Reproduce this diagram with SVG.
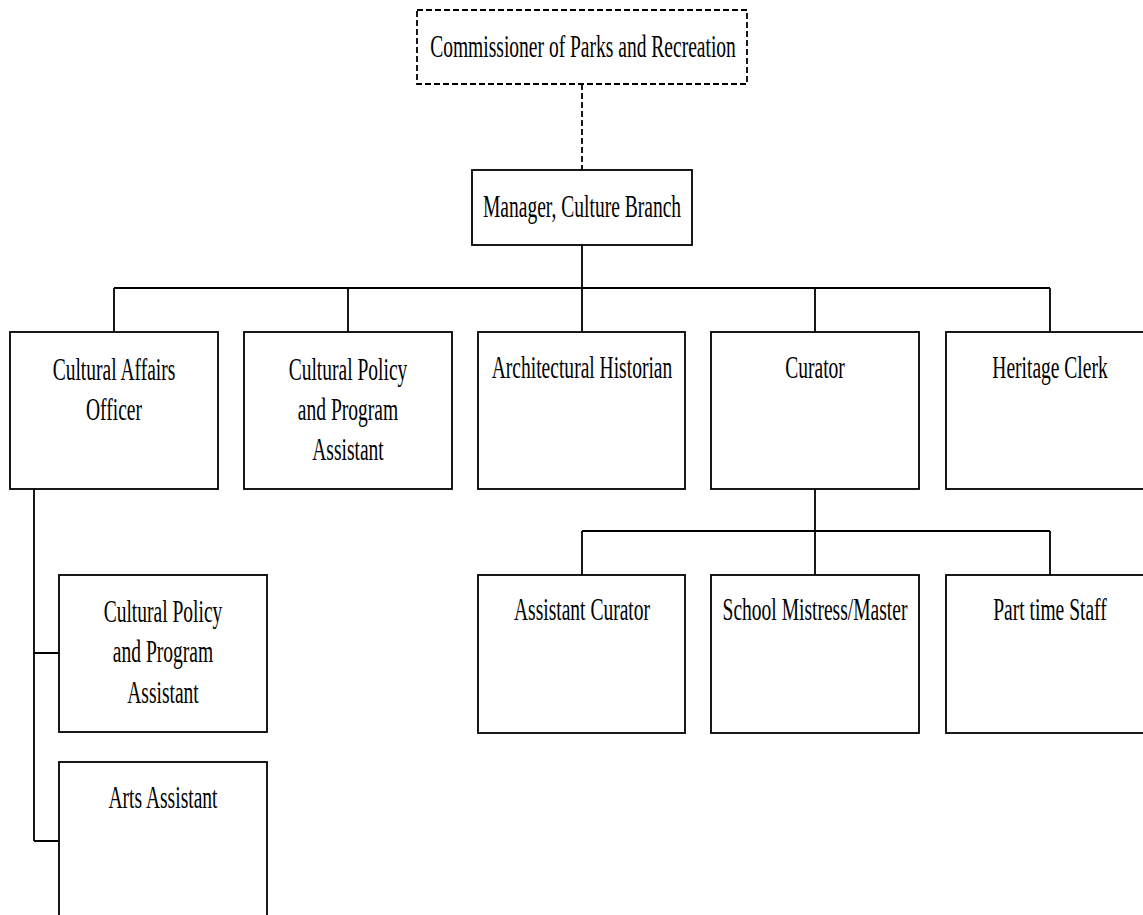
<svg xmlns="http://www.w3.org/2000/svg" width="1143" height="915" viewBox="0 0 1143 915">
<style>
.box{fill:#fff;stroke:#000;stroke-width:1.8}
.dash{stroke-dasharray:6 3}
.ln{fill:none;stroke:#000;stroke-width:1.8}
.t{font-family:"Liberation Serif","Times New Roman",serif;font-size:31px;fill:#000;text-anchor:middle}
</style>
<rect width="1143" height="915" fill="#fff"/>
<g id="connectors">
<path class="ln dash" d="M582 84V170"/>
<path class="ln" d="M582 245V288M114 288H1050M114 288V332M348 288V332M582 288V332M815 288V332M1050 288V332"/>
<path class="ln" d="M815 489V575M582 531H1050M582 531V575M1050 531V575"/>
<path class="ln" d="M34 489V841M34 653H59M34 841H59"/>
</g>
<g id="commissioner">
<rect class="box dash" x="417" y="10" width="330" height="74"/>
<text class="t" transform="matrix(0.63 0 0 1 583 0)" x="0" y="57">Commissioner of Parks and Recreation</text>
</g>
<g id="manager">
<rect class="box" x="472" y="170" width="220" height="75"/>
<text class="t" transform="matrix(0.63 0 0 1 582 0)" x="0" y="217">Manager, Culture Branch</text>
</g>
<g id="cultural-affairs-officer">
<rect class="box" x="10" y="332" width="208" height="157"/>
<text class="t" transform="matrix(0.63 0 0 1 114 0)" x="0" y="380">Cultural Affairs</text>
<text class="t" transform="matrix(0.63 0 0 1 114 0)" x="0" y="420">Officer</text>
</g>
<g id="cultural-policy-1">
<rect class="box" x="244" y="332" width="208" height="157"/>
<text class="t" transform="matrix(0.63 0 0 1 348 0)" x="0" y="380">Cultural Policy</text>
<text class="t" transform="matrix(0.63 0 0 1 348 0)" x="0" y="420">and Program</text>
<text class="t" transform="matrix(0.63 0 0 1 348 0)" x="0" y="460">Assistant</text>
</g>
<g id="architectural-historian">
<rect class="box" x="478" y="332" width="207" height="157"/>
<text class="t" transform="matrix(0.63 0 0 1 582 0)" x="0" y="378">Architectural Historian</text>
</g>
<g id="curator">
<rect class="box" x="711" y="332" width="208" height="157"/>
<text class="t" transform="matrix(0.63 0 0 1 815 0)" x="0" y="378">Curator</text>
</g>
<g id="heritage-clerk">
<rect class="box" x="946" y="332" width="208" height="157"/>
<text class="t" transform="matrix(0.63 0 0 1 1050 0)" x="0" y="378">Heritage Clerk</text>
</g>
<g id="assistant-curator">
<rect class="box" x="478" y="575" width="207" height="158"/>
<text class="t" transform="matrix(0.63 0 0 1 582 0)" x="0" y="620">Assistant Curator</text>
</g>
<g id="school-mistress-master">
<rect class="box" x="711" y="575" width="208" height="158"/>
<text class="t" transform="matrix(0.63 0 0 1 815 0)" x="0" y="620">School Mistress/Master</text>
</g>
<g id="part-time-staff">
<rect class="box" x="946" y="575" width="208" height="158"/>
<text class="t" transform="matrix(0.63 0 0 1 1050 0)" x="0" y="620">Part time Staff</text>
</g>
<g id="cultural-policy-2">
<rect class="box" x="59" y="575" width="208" height="157"/>
<text class="t" transform="matrix(0.63 0 0 1 163 0)" x="0" y="622">Cultural Policy</text>
<text class="t" transform="matrix(0.63 0 0 1 163 0)" x="0" y="662">and Program</text>
<text class="t" transform="matrix(0.63 0 0 1 163 0)" x="0" y="703">Assistant</text>
</g>
<g id="arts-assistant">
<rect class="box" x="59" y="762" width="208" height="170"/>
<text class="t" transform="matrix(0.63 0 0 1 163 0)" x="0" y="808">Arts Assistant</text>
</g>
</svg>
